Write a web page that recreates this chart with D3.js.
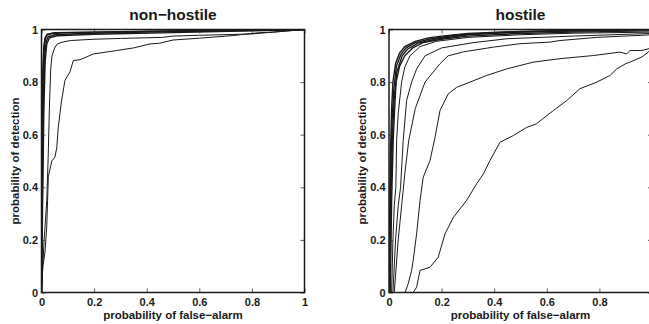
<!DOCTYPE html>
<html>
<head>
<meta charset="utf-8">
<script src="https://cdn.jsdelivr.net/npm/d3@7"></script>
<style>
  body { margin: 0; background: #fff; }
  svg { display: block; }
  text { font-family: "Liberation Sans", Arial, sans-serif; font-weight: bold; fill: #1a1a1a; }
</style>
</head>
<body>
<svg id="chart" width="649" height="324"></svg>
<script>
// tick labels (same on both axes)
const tickValues = [0, 0.2, 0.4, 0.6, 0.8, 1]
const tickLabels = ["0", "0.2", "0.4", "0.6", "0.8", "1"]

// non-hostile ROC curves: [false-alarm, detection]
const nhBundle1 = [[0,0],[0.003,0.5],[0.006,0.8],[0.01,0.92],[0.015,0.965],[0.02,0.978],[0.04,0.985],[0.1,0.988],[0.3,0.992],[0.6,0.996],[1,1]]
const nhBundle2 = [[0,0],[0.004,0.45],[0.008,0.78],[0.012,0.9],[0.018,0.955],[0.025,0.972],[0.05,0.98],[0.15,0.985],[0.4,0.99],[0.7,0.995],[1,1]]
const nhBundle3 = [[0,0],[0.005,0.4],[0.009,0.7],[0.014,0.88],[0.02,0.945],[0.03,0.968],[0.06,0.976],[0.2,0.982],[0.5,0.988],[0.8,0.995],[1,1]]
const nhBundle4 = [[0,0],[0.002,0.55],[0.005,0.85],[0.009,0.94],[0.014,0.97],[0.022,0.982],[0.05,0.988],[0.2,0.99],[0.5,0.994],[1,1]]
const nhMid = [[0,0],[0.005,0.1],[0.01,0.2],[0.02,0.35],[0.025,0.5],[0.03,0.7],[0.035,0.85],[0.04,0.9],[0.05,0.93],[0.06,0.945],[0.08,0.952],[0.11,0.958],[0.2,0.963],[0.3,0.966],[0.46,0.97],[0.5,0.975],[0.6,0.978],[0.8,0.983],[0.88,0.99],[1,1]]
const nhLow = [[0,0],[0.005,0.1],[0.013,0.15],[0.02,0.25],[0.026,0.44],[0.039,0.5],[0.051,0.515],[0.058,0.55],[0.064,0.63],[0.075,0.72],[0.089,0.806],[0.1,0.825],[0.108,0.838],[0.121,0.882],[0.146,0.885],[0.17,0.895],[0.197,0.907],[0.286,0.92],[0.35,0.93],[0.412,0.945],[0.45,0.948],[0.5,0.96],[0.6,0.967],[0.73,0.977],[0.78,0.983],[0.83,0.988],[0.88,0.99],[1,1]]

// hostile ROC curves
const hBundle1 = [[0,0],[0.005,0.5],[0.01,0.7],[0.015,0.8],[0.025,0.87],[0.04,0.91],[0.06,0.935],[0.1,0.955],[0.15,0.968],[0.2,0.975],[0.3,0.985],[0.5,0.993],[0.7,0.997],[1,1]]
const hBundle2 = [[0,0],[0.006,0.45],[0.012,0.66],[0.018,0.77],[0.028,0.86],[0.045,0.905],[0.065,0.93],[0.1,0.95],[0.16,0.965],[0.25,0.978],[0.4,0.988],[0.6,0.994],[1,1]]
const hBundle3 = [[0,0],[0.008,0.4],[0.014,0.62],[0.02,0.74],[0.03,0.84],[0.05,0.9],[0.07,0.925],[0.11,0.948],[0.18,0.964],[0.3,0.98],[0.5,0.99],[1,1]]
const hBundle4 = [[0.005,0],[0.01,0.35],[0.016,0.58],[0.022,0.71],[0.027,0.8],[0.04,0.86],[0.06,0.9],[0.09,0.93],[0.13,0.95],[0.2,0.963],[0.3,0.975],[0.5,0.985],[0.7,0.99],[1,0.995]]
const hCurve5 = [[0.01,0],[0.015,0.2],[0.02,0.33],[0.026,0.4],[0.029,0.578],[0.035,0.68],[0.048,0.8],[0.06,0.857],[0.08,0.9],[0.118,0.935],[0.18,0.955],[0.3,0.97],[0.5,0.98],[0.7,0.986],[1,0.99]]
const hCurve6 = [[0.015,0],[0.025,0.2],[0.035,0.33],[0.044,0.4],[0.054,0.578],[0.067,0.73],[0.086,0.8],[0.105,0.85],[0.137,0.9],[0.2,0.93],[0.32,0.95],[0.45,0.965],[0.7,0.975],[1,0.985]]
const hCurve7 = [[0.02,0],[0.035,0.2],[0.05,0.35],[0.06,0.45],[0.075,0.578],[0.1,0.7],[0.137,0.8],[0.194,0.87],[0.225,0.9],[0.283,0.915],[0.397,0.933],[0.498,0.946],[0.612,0.952],[0.65,0.958],[0.79,0.97],[1,0.98]]
const hCurve8 = [[0.061,0],[0.073,0.033],[0.086,0.084],[0.092,0.122],[0.105,0.223],[0.118,0.35],[0.13,0.438],[0.156,0.502],[0.175,0.59],[0.194,0.692],[0.225,0.755],[0.257,0.78],[0.308,0.8],[0.371,0.825],[0.447,0.85],[0.549,0.876],[0.65,0.889],[0.777,0.901],[0.878,0.914],[0.904,0.907],[0.916,0.92],[0.96,0.92],[1,0.93]]
const hCurve9 = [[0.092,0],[0.105,0.02],[0.118,0.084],[0.156,0.096],[0.187,0.134],[0.213,0.223],[0.245,0.286],[0.295,0.35],[0.333,0.413],[0.359,0.451],[0.384,0.502],[0.422,0.571],[0.473,0.597],[0.524,0.628],[0.56,0.641],[0.625,0.692],[0.676,0.73],[0.726,0.775],[0.79,0.8],[0.84,0.825],[0.866,0.85],[0.9,0.87],[0.916,0.876],[0.961,0.895],[0.986,0.914],[1,0.93]]

const panels = [
  { title: "non\u2212hostile", x0: 41.5, bundle: [nhBundle1, nhBundle2, nhBundle3, nhBundle4], thin: [nhMid, nhLow] },
  { title: "hostile", x0: 389, bundle: [hBundle1, hBundle2, hBundle3, hBundle4], thin: [hCurve5, hCurve6, hCurve7, hCurve8, hCurve9] }
]

const svg = d3.select("#chart")
const size = 263
const plotTop = 29.5

panels.forEach(function (p, k) {
  let g = svg.append("g").attr("transform", "translate(" + p.x0 + "," + plotTop + ")")
  let x = d3.scaleLinear().domain([0, 1]).range([0, size])
  let y = d3.scaleLinear().domain([0, 1]).range([size, 0])
  let line = d3.line().x(d => x(d[0])).y(d => y(d[1]))

  g.append("clipPath").attr("id", "clip" + k)
    .append("rect").attr("width", size).attr("height", size)

  let curves = g.append("g").attr("clip-path", "url(#clip" + k + ")")
  curves.selectAll("path.thin")
    .data(p.thin)
    .enter()
    .append("path")
    .attr("class", "thin")
    .attr("d", line)
    .attr("fill", "none")
    .attr("stroke", "#1a1a1a")
    .attr("stroke-width", 1)
  curves.selectAll("path.bundle")
    .data(p.bundle)
    .enter()
    .append("path")
    .attr("class", "bundle")
    .attr("d", line)
    .attr("fill", "none")
    .attr("stroke", "#1a1a1a")
    .attr("stroke-width", 1.4)

  // axes with inward ticks, MATLAB style
  let fmt = (d, i) => tickLabels[i]
  g.append("g").attr("transform", "translate(0," + size + ")")
    .call(d3.axisBottom(x).tickValues(tickValues).tickFormat(fmt).tickSizeInner(-4).tickSizeOuter(0).tickPadding(6))
  g.append("g")
    .call(d3.axisLeft(y).tickValues(tickValues).tickFormat(fmt).tickSizeInner(-4).tickSizeOuter(0).tickPadding(3.5))
  g.append("g").call(d3.axisTop(x).tickValues(tickValues).tickFormat("").tickSizeInner(-4).tickSizeOuter(0))
  g.append("g").attr("transform", "translate(" + size + ",0)")
    .call(d3.axisRight(y).tickValues(tickValues).tickFormat("").tickSizeInner(-4).tickSizeOuter(0))

  g.selectAll(".domain").remove()
  g.selectAll(".tick line").attr("stroke", "#333").attr("stroke-width", 0.8)
  g.selectAll(".tick text").attr("font-size", "11px").style("font-family", "'Liberation Sans', Arial, sans-serif").attr("font-weight", "bold").attr("fill", "#1a1a1a")

  g.append("rect")
    .attr("width", size).attr("height", size)
    .attr("fill", "none")
    .attr("stroke", "#1a1a1a")
    .attr("stroke-width", 1.5)

  g.append("text")
    .attr("x", size / 2).attr("y", -9.5)
    .attr("text-anchor", "middle")
    .attr("font-size", "15.5px")
    .text(p.title)

  g.append("text")
    .attr("x", size / 2).attr("y", size + 26.5)
    .attr("text-anchor", "middle")
    .attr("font-size", "11.5px")
    .text("probability of false\u2212alarm")

  g.append("text")
    .attr("transform", "translate(-23," + size / 2 + ") rotate(-90)")
    .attr("text-anchor", "middle")
    .attr("font-size", "11.5px")
    .text("probability of detection")
})
</script>
</body>
</html>
